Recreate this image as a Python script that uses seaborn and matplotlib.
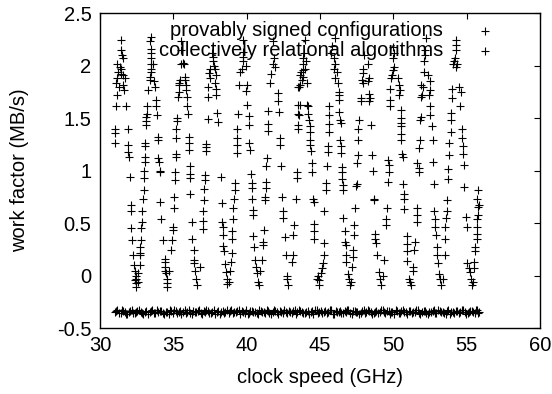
import matplotlib
matplotlib.use('Agg')
import matplotlib.pyplot as plt
import seaborn as sns
import pandas as pd

# series 1: "provably signed configurations" (strand by strand)
signed_x = [
    31.45, 31.41, 31.52, 31.57, 31.18, 31.34, 31.45, 31.23, 31.41, 31.57, 31.18, 31.68, 31.11, 31.57, 31.27, 31.64, 31.18, 31.11, 31.05, 31.05, 31.05,
    31.77, 31.91, 31.91, 31.91, 31.95, 32.02, 32.09, 32.09, 32.14, 32.18, 32.25, 32.32, 32.36, 32.48, 32.48, 32.48, 32.48, 32.59, 32.70, 32.59, 32.36, 32.70,
    32.75, 32.75, 32.82, 32.82, 32.86, 32.89, 32.93, 32.98, 33.00, 33.00, 33.05, 33.05, 33.09, 33.09, 33.16, 33.16, 33.16, 33.23, 33.23, 33.27, 33.39, 33.39, 33.45, 33.45, 33.45, 33.45, 33.45, 33.39, 33.45,
    33.61, 33.50, 33.68, 33.77, 33.84, 33.84, 33.91, 33.95, 33.95, 33.95, 34.00, 34.07, 34.07, 34.11, 34.18, 34.30, 34.41, 34.41, 34.45, 34.45, 34.52, 34.59, 34.59, 34.59, 34.68,
    34.86, 34.91, 34.98, 34.98, 35.02, 35.02, 35.09, 35.09, 35.16, 35.20, 35.20, 35.20, 35.25, 35.27, 35.32, 35.36, 35.36, 35.39, 35.43, 35.50, 35.50, 35.55,
    35.66, 35.73, 35.77, 35.82, 35.89, 35.89, 35.95, 35.95, 36.00, 36.05, 36.05, 36.07, 36.11, 36.11, 36.16, 36.16, 36.30, 36.30, 36.41, 36.41, 36.45, 36.50, 36.57, 36.64, 36.80,
    37.00, 37.04, 37.04, 37.09, 37.09, 37.16, 37.16, 37.23, 37.23, 37.23, 37.39, 37.39, 37.39, 37.50, 37.45, 37.54, 37.68, 37.73, 37.61,
    37.77, 37.84, 37.91, 37.84, 37.91, 37.95, 38.00, 38.07, 38.23, 38.30, 38.34, 38.36, 38.41, 38.41, 38.45, 38.52, 38.59, 38.64, 38.68, 38.82, 38.86, 38.91, 38.98, 39.04, 39.04,
    39.09, 39.09, 39.14, 39.20, 39.20, 39.32, 39.32, 39.32, 39.36, 39.43, 39.48, 39.54, 39.66, 39.73, 39.77, 39.73, 39.77,
    39.95, 40.00, 39.95, 40.04, 40.18, 40.18, 40.18, 40.23, 40.27, 40.34, 40.34, 40.34, 40.41, 40.41, 40.45, 40.52, 40.57, 40.64, 40.68, 40.79, 40.86, 40.95, 41.02, 41.09,
    41.09, 41.18, 41.25, 41.25, 41.30, 41.30, 41.32, 41.36, 41.48, 41.48, 41.48, 41.59, 41.70, 41.82, 41.86, 41.82,
    41.93, 42.16, 42.16, 42.23, 42.27, 42.27, 42.32, 42.45, 42.50, 42.50, 42.61, 42.68, 42.77, 42.77, 42.84, 43.07, 43.14, 43.18, 43.23, 43.36, 43.41, 43.41, 43.52, 43.52, 43.52, 43.52, 43.64,
    43.54, 43.59, 43.66, 43.59, 43.66, 43.77, 43.82, 43.72, 43.88, 44.00, 43.88, 44.04, 43.88, 43.95, 44.00,
    44.11, 44.22, 44.22, 44.27, 44.34, 44.34, 44.34, 44.34, 44.41, 44.45, 44.45, 44.50, 44.57, 44.57, 44.63, 44.63, 44.86, 44.91, 44.95, 44.79, 44.11,
    45.09, 45.13, 45.18, 45.25, 45.25, 45.31, 45.41, 45.41, 45.47, 45.54, 45.54, 45.59, 45.63, 45.63, 45.63, 45.93, 46.00, 45.93, 45.77, 45.82, 46.00,
    46.16, 46.00, 46.22, 46.27, 46.31, 46.31, 46.27, 46.38, 46.45, 46.38, 46.45, 46.45, 46.50, 46.50, 46.54, 46.61, 46.61, 46.61, 46.68, 46.72, 46.77, 46.79, 46.77, 46.91, 47.00, 47.07, 47.13, 47.22,
    47.29, 47.29, 47.36, 47.36, 47.40, 47.45, 47.52, 47.56, 47.59, 47.63, 47.63, 47.68, 47.82, 47.82, 47.91, 47.86, 47.97, 47.97, 48.04,
    48.31, 48.36, 48.27, 48.36, 48.43, 48.36, 48.50, 48.54, 48.59, 48.66, 48.72, 48.77, 48.77, 48.82, 48.88, 49.04, 49.11, 49.18, 49.27, 49.34,
    49.50, 49.50, 49.56, 49.63, 49.68, 49.68, 49.63,
    49.81, 49.81, 49.81, 49.86, 49.93, 50.00, 50.04, 50.00, 50.04, 49.98,
    50.31, 50.38, 50.45, 50.38, 50.50, 50.50, 50.54, 50.54, 50.50, 50.54, 50.61, 50.68, 50.68, 50.72, 50.77, 50.77, 50.91, 50.91, 50.91, 50.95, 51.06, 51.13, 51.18, 51.36, 51.36, 51.45, 51.52, 51.59,
    51.59, 51.59, 51.63, 51.75, 51.75, 51.75, 51.81, 51.86, 51.91, 51.91, 51.91, 52.04, 51.97, 52.09, 52.13, 52.20, 52.20, 52.27,
    52.36, 52.50, 52.50, 52.43, 52.54, 52.54, 52.66, 52.72, 52.72, 52.77, 52.81, 52.88, 52.88, 52.95, 53.00, 53.00, 53.04, 53.11, 53.22, 53.27, 53.41, 53.50, 53.56, 53.56,
    53.63, 53.68, 53.68, 53.72, 53.72, 53.79, 53.79, 53.91, 53.91, 53.95, 54.02, 54.02, 54.09, 54.13, 54.25, 54.36, 54.31, 54.31, 54.31, 54.18,
    54.47, 54.63, 54.54, 54.70, 54.70, 54.77, 54.77, 54.81, 54.86, 54.93, 55.00, 55.04, 55.16, 55.22, 55.31, 55.38, 55.45, 55.50, 55.54,
    55.61, 55.61, 55.68, 55.68, 55.72, 55.72, 55.77, 55.77, 55.72, 55.77, 55.84,
]
signed_y = [
    2.24, 2.15, 2.10, 2.07, 2.01, 1.99, 1.97, 1.94, 1.92, 1.91, 1.88, 1.88, 1.83, 1.81, 1.80, 1.77, 1.72, 1.61, 1.40, 1.36, 1.26,
    1.61, 1.40, 1.24, 1.18, 1.13, 0.94, 0.67, 0.61, 0.45, 0.34, 0.20, 0.10, 0.04, 0.00, -0.03, -0.07, -0.11, 0.02, 0.10, -0.06, -0.04, 0.20,
    0.27, 0.21, 0.34, 0.45, 0.51, 0.61, 0.73, 0.81, 0.93, 1.00, 1.08, 1.13, 1.23, 1.26, 1.43, 1.47, 1.51, 1.54, 1.61, 1.77, 1.86, 1.89, 1.97, 2.01, 2.07, 2.12, 2.16, 2.23, 2.27,
    2.01, 1.94, 1.85, 1.80, 1.67, 1.61, 1.53, 1.32, 1.29, 1.12, 1.08, 1.00, 0.99, 0.70, 0.54, 0.34, 0.16, 0.13, 0.08, 0.04, 0.02, -0.03, -0.07, -0.11, 0.04,
    0.24, 0.34, 0.43, 0.46, 0.64, 0.75, 0.91, 0.99, 1.13, 1.16, 1.31, 1.40, 1.47, 1.50, 1.70, 1.75, 1.81, 1.83, 1.86, 2.01, 2.15, 2.23,
    2.02, 2.01, 1.89, 1.86, 1.81, 1.77, 1.70, 1.61, 1.54, 1.32, 1.26, 1.20, 1.04, 0.97, 0.93, 0.78, 0.51, 0.35, 0.24, 0.15, 0.12, 0.04, -0.03, -0.09, 0.08,
    0.44, 0.52, 0.61, 0.72, 0.82, 0.91, 0.96, 1.19, 1.22, 1.25, 1.49, 1.70, 1.80, 1.88, 1.93, 1.97, 2.04, 2.08, 2.12,
    2.00, 1.97, 1.91, 1.83, 1.78, 1.72, 1.55, 1.46, 0.94, 0.69, 0.51, 0.46, 0.39, 0.28, 0.23, 0.11, 0.03, -0.03, -0.08, -0.06, 0.04, 0.13, 0.21, 0.35, 0.42,
    0.54, 0.64, 0.73, 0.81, 0.88, 1.17, 1.24, 1.31, 1.40, 1.54, 1.81, 1.94, 1.97, 2.04, 2.08, 2.13, 2.24,
    2.00, 1.81, 1.76, 1.62, 1.52, 1.43, 1.26, 1.20, 0.97, 0.88, 0.83, 0.73, 0.62, 0.58, 0.38, 0.27, 0.15, 0.08, 0.02, -0.06, -0.09, 0.04, 0.15, 0.32,
    0.29, 0.43, 0.72, 0.75, 0.83, 0.89, 1.04, 1.12, 1.38, 1.44, 1.57, 1.83, 1.92, 2.01, 2.07, 2.23,
    1.99, 1.74, 1.66, 1.56, 1.31, 1.24, 1.04, 0.75, 0.61, 0.55, 0.37, 0.20, 0.00, -0.03, -0.09, 0.13, 0.20, 0.39, 0.48, 0.73, 0.99, 0.93, 1.43, 1.54, 1.62, 1.80, 1.91,
    1.40, 1.53, 1.62, 1.80, 1.81, 1.86, 1.89, 1.94, 1.96, 1.97, 2.01, 2.04, 2.07, 2.12, 2.24,
    1.62, 1.61, 1.54, 1.48, 1.42, 1.37, 1.29, 1.24, 1.19, 1.07, 0.99, 0.73, 0.70, 0.49, 0.42, 0.35, 0.00, -0.04, -0.09, -0.03, 1.83,
    0.02, 0.07, 0.12, 0.20, 0.31, 0.61, 0.81, 0.88, 1.04, 1.18, 1.23, 1.37, 1.44, 1.53, 1.61, 1.97, 2.01, 2.07, 2.12, 2.19, 2.26,
    1.94, 1.88, 1.83, 1.75, 1.72, 1.67, 1.56, 1.48, 1.45, 1.29, 1.23, 1.17, 1.03, 0.99, 0.92, 0.86, 0.81, 0.55, 0.42, 0.32, 0.29, 0.20, 0.13, 0.01, -0.03, -0.09, -0.06, 0.08,
    0.18, 0.24, 0.39, 0.48, 0.64, 0.85, 0.87, 1.07, 1.15, 1.29, 1.40, 1.48, 1.66, 1.69, 1.83, 1.86, 1.93, 1.97, 2.10,
    2.01, 1.88, 1.85, 1.73, 1.69, 1.66, 1.43, 1.15, 1.00, 0.73, 0.72, 0.40, 0.35, 0.31, 0.20, 0.03, -0.03, -0.09, 0.00, 0.15,
    0.48, 0.54, 0.64, 0.89, 0.99, 1.05, 1.10,
    1.61, 1.67, 1.78, 1.88, 1.91, 1.96, 1.99, 2.07, 2.12, 2.18,
    1.88, 1.81, 1.77, 1.72, 1.58, 1.50, 1.45, 1.42, 1.35, 1.29, 1.16, 1.13, 0.87, 0.78, 0.73, 0.63, 0.38, 0.30, 0.23, 0.14, -0.03, -0.06, -0.09, 0.04, 0.08, 0.24, 0.32, 0.64,
    0.58, 0.51, 1.07, 1.02, 0.99, 1.21, 1.29, 1.48, 1.51, 1.70, 1.81, 1.80, 1.72, 1.94, 2.04, 2.10, 2.15, 2.26,
    1.91, 1.85, 1.77, 1.72, 1.61, 1.53, 1.42, 1.29, 1.08, 0.87, 0.61, 0.54, 0.46, 0.39, 0.27, 0.20, 0.12, 0.01, -0.03, -0.09, -0.03, 0.20, 0.35, 0.46,
    0.55, 0.61, 0.72, 0.92, 1.01, 1.15, 1.26, 1.37, 1.48, 1.55, 1.69, 1.78, 2.01, 2.04, 1.99, 2.01, 2.15, 2.20, 2.24, 2.07,
    1.80, 1.75, 1.61, 1.40, 1.31, 1.23, 1.16, 1.05, 0.84, 0.56, 0.46, 0.12, 0.07, 0.03, -0.03, -0.09, -0.06, 0.07, 0.13,
    0.23, 0.27, 0.35, 0.40, 0.46, 0.54, 0.58, 0.65, 0.73, 0.81, 0.67,
]

# series 2: "collectively relational algorithms" (dense flat band near -0.35)
relational_x = [
    31.00, 31.18, 31.41, 31.57, 31.80, 31.96, 32.19, 32.38, 32.55, 32.79,
    32.97, 33.16, 33.39, 33.58, 33.77, 33.95, 34.18, 34.36, 34.59, 34.77,
    34.95, 35.16, 35.37, 35.55, 35.78, 35.96, 36.15, 36.38, 36.56, 36.77,
    36.98, 37.17, 37.35, 37.58, 37.76, 37.97, 38.16, 38.37, 38.55, 38.78,
    38.96, 39.15, 39.38, 39.57, 39.76, 39.97, 40.16, 40.35, 40.58, 40.77,
    40.96, 41.18, 41.36, 41.55, 41.78, 41.97, 42.15, 42.36, 42.57, 42.76,
    42.98, 43.17, 43.36, 43.58, 43.75, 43.96, 44.17, 44.37, 44.56, 44.78,
    44.96, 45.15, 45.38, 45.57, 45.77, 45.96, 46.18, 46.35, 46.57, 46.78,
    46.95, 47.16, 47.38, 47.56, 47.77, 47.98, 48.15, 48.36, 48.58, 48.75,
    48.97, 49.17, 49.36, 49.57, 49.78, 49.95, 50.18, 50.37, 50.56, 50.77,
    50.97, 51.15, 51.38, 51.57, 51.75, 51.96, 52.17, 52.36, 52.58, 52.77,
    52.95, 53.16, 53.38, 53.57, 53.76, 53.97, 54.15, 54.37, 54.58, 54.76,
    54.97, 55.16, 55.38, 55.55, 55.72, 55.86,
    31.08, 31.30, 31.49, 31.68, 31.88, 32.07, 32.29, 32.46, 32.67, 32.88,
    33.06, 33.28, 33.48, 33.67, 33.86, 34.07, 34.27, 34.48, 34.68, 34.86,
    35.05, 35.27, 35.46, 35.67, 35.87, 36.06, 36.27, 36.47, 36.66, 36.88,
    37.08, 37.26, 37.47, 37.67, 37.86, 38.07, 38.27, 38.46, 38.67, 38.87,
    39.06, 39.27, 39.48, 39.66, 39.87, 40.07, 40.26, 40.47, 40.68, 40.87,
    41.07, 41.27, 41.46, 41.67, 41.88, 42.06, 42.26, 42.47, 42.67, 42.87,
    43.08, 43.27, 43.47, 43.67, 43.86, 44.07, 44.27, 44.47, 44.67, 44.87,
    45.06, 45.27, 45.48, 45.67, 45.87, 46.07, 46.27, 46.46, 46.68, 46.87,
    47.06, 47.27, 47.47, 47.67, 47.88, 48.07, 48.26, 48.47, 48.67, 48.86,
    49.07, 49.27, 49.47, 49.68, 49.87, 50.07, 50.28, 50.47, 50.67, 50.87,
    51.06, 51.27, 51.48, 51.66, 51.86, 52.07, 52.27, 52.47, 52.68, 52.86,
    53.06, 53.27, 53.48, 53.67, 53.87, 54.06, 54.26, 54.48, 54.67, 54.87,
    55.07, 55.27, 55.47, 55.64, 55.80,
]
relational_y = [
    -0.35, -0.33, -0.36, -0.34, -0.37, -0.35, -0.33, -0.36, -0.34, -0.35,
    -0.37, -0.34, -0.35, -0.33, -0.36, -0.35, -0.34, -0.37, -0.35, -0.33,
    -0.36, -0.34, -0.35, -0.37, -0.33, -0.35, -0.36, -0.34, -0.35, -0.33,
    -0.37, -0.35, -0.34, -0.36, -0.33, -0.35, -0.37, -0.34, -0.35, -0.36,
    -0.33, -0.35, -0.34, -0.37, -0.35, -0.33, -0.36, -0.34, -0.35, -0.37,
    -0.34, -0.35, -0.33, -0.36, -0.35, -0.34, -0.37, -0.35, -0.33, -0.36,
    -0.35, -0.34, -0.37, -0.33, -0.35, -0.36, -0.34, -0.35, -0.37, -0.33,
    -0.35, -0.36, -0.34, -0.35, -0.33, -0.37, -0.35, -0.34, -0.36, -0.35,
    -0.33, -0.37, -0.34, -0.35, -0.36, -0.33, -0.35, -0.34, -0.37, -0.35,
    -0.36, -0.33, -0.35, -0.34, -0.37, -0.35, -0.33, -0.36, -0.34, -0.35,
    -0.37, -0.34, -0.35, -0.33, -0.36, -0.35, -0.34, -0.37, -0.35, -0.33,
    -0.36, -0.34, -0.35, -0.37, -0.33, -0.35, -0.36, -0.34, -0.35, -0.33,
    -0.37, -0.35, -0.34, -0.36, -0.33, -0.35,
    -0.34, -0.36, -0.33, -0.35, -0.37, -0.34, -0.36, -0.35, -0.33, -0.36,
    -0.35, -0.37, -0.34, -0.36, -0.33, -0.34, -0.36, -0.35, -0.37, -0.34,
    -0.33, -0.36, -0.34, -0.35, -0.36, -0.33, -0.37, -0.35, -0.34, -0.36,
    -0.34, -0.33, -0.36, -0.35, -0.37, -0.34, -0.35, -0.36, -0.33, -0.34,
    -0.36, -0.35, -0.33, -0.34, -0.36, -0.37, -0.34, -0.35, -0.36, -0.33,
    -0.35, -0.36, -0.34, -0.37, -0.33, -0.35, -0.34, -0.36, -0.35, -0.34,
    -0.36, -0.33, -0.35, -0.34, -0.36, -0.35, -0.37, -0.34, -0.33, -0.36,
    -0.34, -0.35, -0.36, -0.33, -0.37, -0.34, -0.35, -0.36, -0.34, -0.33,
    -0.36, -0.34, -0.35, -0.37, -0.34, -0.36, -0.33, -0.35, -0.36, -0.34,
    -0.35, -0.33, -0.36, -0.34, -0.35, -0.37, -0.34, -0.36, -0.33, -0.35,
    -0.34, -0.36, -0.35, -0.33, -0.37, -0.34, -0.36, -0.35, -0.34, -0.36,
    -0.33, -0.35, -0.36, -0.34, -0.37, -0.35, -0.34, -0.36, -0.33, -0.35,
    -0.36, -0.34, -0.35, -0.33, -0.36,
]

series_names = ['provably signed configurations', 'collectively relational algorithms']
x_ticks = [30, 35, 40, 45, 50, 55, 60]
y_ticks = [-0.5, 0, 0.5, 1, 1.5, 2, 2.5]
y_tick_labels = ['-0.5', '0', '0.5', '1', '1.5', '2', '2.5']

sns.set_style('white')
plt.rcParams['font.family'] = ['Liberation Sans', 'DejaVu Sans']
plt.rcParams['text.color'] = 'black'
plt.rcParams['axes.labelcolor'] = 'black'
fs = 14.5

df1 = pd.DataFrame({'x': signed_x, 'y': signed_y})
df2 = pd.DataFrame({'x': relational_x, 'y': relational_y})

fig = plt.figure(figsize=(5.52, 3.94), dpi=100)
ax = fig.add_axes([0.181, 0.1675, 0.797, 0.7995])

sns.scatterplot(data=df1, x='x', y='y', marker='+', color='black', s=30,
                linewidth=0.8, label=series_names[0], ax=ax)
sns.scatterplot(data=df2, x='x', y='y', marker='+', color='black', s=30,
                linewidth=0.8, label=series_names[1], ax=ax)

ax.set_xlim(30, 60)
ax.set_ylim(-0.5, 2.5)
ax.set_xticks(x_ticks)
ax.set_yticks(y_ticks)
ax.set_yticklabels(y_tick_labels)
ax.tick_params(direction='in', top=True, right=True, length=4, width=0.8,
               labelsize=fs, pad=6, colors='black')
for sp in ax.spines.values():
    sp.set_color('black')
    sp.set_linewidth(1.0)

ax.set_xlabel('clock speed (GHz)', fontsize=fs, labelpad=9, color='black')
ax.set_ylabel('work factor (MB/s)', fontsize=fs, labelpad=20, color='black')

leg = ax.legend(loc='upper right', bbox_to_anchor=(0.94, 1.0), frameon=False,
                markerfirst=False, fontsize=fs, handletextpad=1.1,
                labelspacing=0.05, borderaxespad=0.0)
for t in leg.get_texts():
    t.set_color('black')

fig.savefig('out.png', dpi=100)
